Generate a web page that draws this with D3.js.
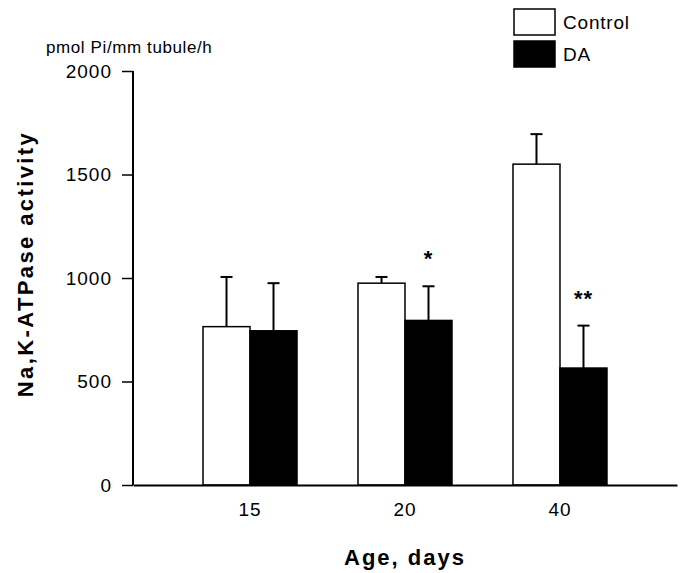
<!DOCTYPE html>
<html>
<head>
<meta charset="utf-8">
<script src="https://cdn.jsdelivr.net/npm/d3@7"></script>
<style>
  body { margin: 0; background: #fff; }
  text { font-family: "Liberation Sans", Arial, sans-serif; fill: #000; }
</style>
</head>
<body>
<div id="chart"></div>
<script>
// values
const ages = ["15", "20", "40"];
const groups = ["Control", "DA"];
const controlMean = [765, 975, 1550];
const controlErr = [240, 30, 145];
const daMean = [745, 795, 565];
const daErr = [230, 165, 205];
const daStars = ["", "*", "**"];
const yTicks = [0, 500, 1000, 1500, 2000];

const W = 681, H = 573;
const margin = {top: 71, right: 4, bottom: 88, left: 133};
const width = W - margin.left - margin.right;
const height = H - margin.top - margin.bottom;

const data = [];
ages.forEach((a, i) => {
    data.push({age: a, group: "Control", mean: controlMean[i], err: controlErr[i], star: ""});
    data.push({age: a, group: "DA", mean: daMean[i], err: daErr[i], star: daStars[i]});
});

const svg = d3.select("#chart").append("svg")
    .attr("width", W)
    .attr("height", H);

const g = svg.append("g")
    .attr("transform", `translate(${margin.left},${margin.top})`);

const x0 = d3.scaleBand()
    .domain(ages)
    .range([0, width])
    .paddingInner(0)
    .paddingOuter(0.255);

const barW = 47;
const x1 = d3.scaleBand()
    .domain(groups)
    .range([x0.bandwidth() / 2 - barW, x0.bandwidth() / 2 + barW]);

const y = d3.scaleLinear()
    .domain([0, 2000])
    .range([height, 0]);

const fill = d3.scaleOrdinal().domain(groups).range(["#fff", "#000"]);

// error bars (upper only)
const eb = g.selectAll(".err")
    .data(data)
    .enter().append("g")
    .attr("class", "err")
    .attr("transform", d => `translate(${x0(d.age) + x1(d.group) + barW / 2},0)`);

eb.append("line")
    .attr("y1", d => y(d.mean))
    .attr("y2", d => y(d.mean + d.err))
    .attr("stroke", "#000")
    .attr("stroke-width", 2);

eb.append("line")
    .attr("x1", -6).attr("x2", 6)
    .attr("y1", d => y(d.mean + d.err))
    .attr("y2", d => y(d.mean + d.err))
    .attr("stroke", "#000")
    .attr("stroke-width", 2);

eb.append("text")
    .attr("text-anchor", "middle")
    .attr("y", d => y(d.mean + d.err) - 20)
    .style("font-size", "22px")
    .style("font-weight", "bold")
    .attr("letter-spacing", "1px")
    .text(d => d.star);

// bars
g.selectAll(".bar")
    .data(data)
    .enter().append("rect")
    .attr("class", "bar")
    .attr("x", d => x0(d.age) + x1(d.group))
    .attr("y", d => y(d.mean))
    .attr("width", barW)
    .attr("height", d => y(0) - y(d.mean))
    .attr("fill", d => fill(d.group))
    .attr("stroke", "#000")
    .attr("stroke-width", 1.5);

// y axis
const yAxis = g.append("g")
    .call(d3.axisLeft(y).tickValues(yTicks).tickFormat(d3.format("d")).tickSize(11).tickPadding(10));
yAxis.select(".domain").attr("d", `M0,${y(2000)}V${y(0)}`).attr("stroke-width", 2);
yAxis.selectAll(".tick line").attr("stroke-width", 1.5);
yAxis.selectAll(".tick text")
    .style("font-size", "19px")
    .style("font-family", "'Liberation Sans', Arial, sans-serif")
    .attr("letter-spacing", "1px");

// x axis baseline
const xAxis = g.append("g")
    .attr("transform", `translate(0,${y(0)})`)
    .call(d3.axisBottom(x0).tickSize(0).tickPadding(18));
xAxis.select(".domain").attr("stroke-width", 2);
xAxis.selectAll(".tick text")
    .style("font-size", "19px")
    .style("font-family", "'Liberation Sans', Arial, sans-serif")
    .attr("letter-spacing", "1px");

// axis titles
svg.append("text")
    .attr("x", 405)
    .attr("y", 565)
    .attr("text-anchor", "middle")
    .style("font-size", "22px")
    .style("font-weight", "bold")
    .attr("letter-spacing", "2px")
    .text("Age, days");

svg.append("text")
    .attr("transform", "translate(33,264) rotate(-90)")
    .attr("text-anchor", "middle")
    .style("font-size", "22px")
    .style("font-weight", "bold")
    .attr("letter-spacing", "2.4px")
    .text("Na,K-ATPase activity");

svg.append("text")
    .attr("x", 46)
    .attr("y", 53)
    .style("font-size", "17px")
    .attr("letter-spacing", "0.6px")
    .text("pmol Pi/mm tubule/h");

// legend
const legend = svg.append("g").attr("transform", "translate(514,9)");
const li = legend.selectAll(".leg")
    .data(groups)
    .enter().append("g")
    .attr("class", "leg")
    .attr("transform", (d, i) => `translate(0,${i * 32})`);
li.append("rect")
    .attr("width", 41)
    .attr("height", 26)
    .attr("fill", d => fill(d))
    .attr("stroke", "#000")
    .attr("stroke-width", 1.5);
li.append("text")
    .attr("x", 49)
    .attr("y", 20)
    .style("font-size", "19px")
    .attr("letter-spacing", "0.8px")
    .text(d => d);
</script>
</body>
</html>
